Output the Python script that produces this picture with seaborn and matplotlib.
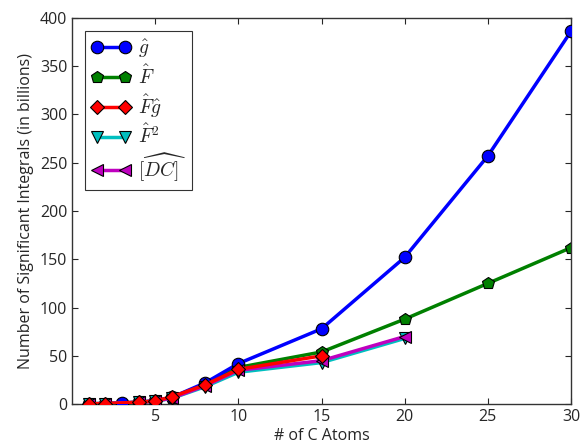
import matplotlib
matplotlib.use("Agg")
import matplotlib.pyplot as plt
import seaborn as sns
import pandas as pd

sns.set_style("ticks")
plt.rcParams['font.family'] = ['Open Sans', 'DejaVu Sans']
plt.rcParams['mathtext.fontset'] = 'cm'

x_g = [1, 2, 3, 4, 5, 6, 8, 10, 15, 20, 25, 30]
y_g = [0.3, 0.6, 1.2, 2.0, 3.5, 7.0, 22, 42, 78, 152, 257, 386]
x_F = [1, 2, 3, 4, 5, 6, 8, 10, 15, 20, 25, 30]
y_F = [0.3, 0.6, 1.1, 1.9, 3.3, 6.5, 21, 38, 54, 88, 125, 162]
x_Fg = [1, 2, 4, 5, 6, 8, 10, 15]
y_Fg = [0.3, 0.6, 1.9, 3.4, 7.5, 20, 36, 50]
x_F2 = [1, 2, 4, 5, 6, 8, 10, 15, 20]
y_F2 = [0.3, 0.6, 1.8, 3.0, 6.0, 18, 33, 43, 68]
x_DC = [1, 2, 4, 5, 6, 8, 10, 15, 20]
y_DC = [0.3, 0.6, 1.8, 3.1, 6.2, 19, 35, 45, 70]

labels = [r'$\hat{g}$', r'$\hat{F}$', r'$\hat{F}\hat{g}$', r'$\hat{F}^2$', r'$\widehat{[DC]}$']
xticks = [5, 10, 15, 20, 25, 30]
yticks = [0, 50, 100, 150, 200, 250, 300, 350, 400]

series = [(x_g, y_g, '#0000ff', 'o', 9, 3),
          (x_F, y_F, '#008000', 'p', 9, 2),
          (x_Fg, y_Fg, '#ff0000', 'D', 7, 5),
          (x_F2, y_F2, '#00bfbf', 'v', 9, 3),
          (x_DC, y_DC, '#bf00bf', '<', 9, 4)]

fig = plt.figure(figsize=(5.82, 4.48), dpi=100)
ax = fig.add_axes([0.124, 0.098, 0.857, 0.862])

for (xs, ys, c, m, ms, z), lab in zip(series, labels):
    df = pd.DataFrame({'x': xs, 'y': ys})
    sns.lineplot(data=df, x='x', y='y', ax=ax, color=c, marker=m, markersize=ms,
                 markeredgecolor='black', markeredgewidth=0.8, linewidth=2.5,
                 label=lab, zorder=z, sort=False, errorbar=None)

ax.set_xlim(0, 30)
ax.set_ylim(0, 400)
ax.set_xticks(xticks)
ax.set_yticks(yticks)
ax.tick_params(direction='in', top=True, right=True, labelsize=11.5, length=4, width=0.8)
for s in ax.spines.values():
    s.set_linewidth(1.0)
    s.set_color('#333333')
ax.set_xlabel('# of C Atoms', fontsize=11.5, labelpad=2)
ax.set_ylabel('Number of Significant Integrals (in billions)', fontsize=11.5, labelpad=4)

leg = ax.legend(loc='upper left', numpoints=2, fontsize=14, frameon=True, fancybox=False,
                edgecolor='black', handlelength=2.0, borderaxespad=0.68, labelspacing=0.22,
                handletextpad=0.4, borderpad=0.32)
leg.get_frame().set_linewidth(0.8)

fig.savefig('out.png', dpi=100)
